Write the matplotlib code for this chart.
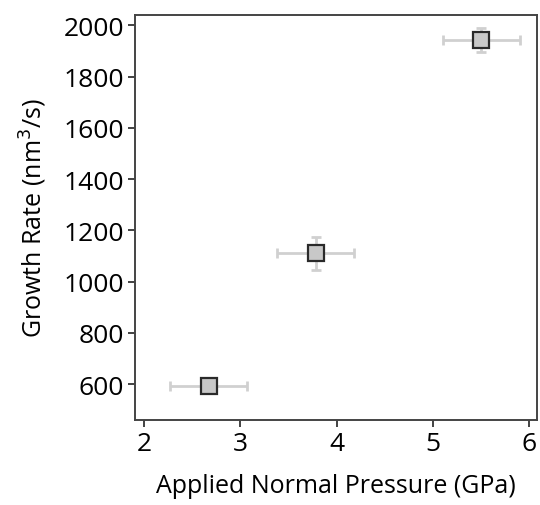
import matplotlib
matplotlib.use("Agg")
import matplotlib.pyplot as plt

# ── Data ──────────────────────────────────────────────────────────────────────
pressure     = [2.67, 3.78, 5.50]     # GPa
pressure_err = [0.40, 0.40, 0.40]
growth_rate  = [592, 1111, 1941]      # nm^3/s
growth_err   = [15, 64, 47]

x_ticks = [2, 3, 4, 5, 6]
y_ticks = [600, 800, 1000, 1200, 1400, 1600, 1800, 2000]

plt.rcParams['font.family'] = ['Open Sans', 'DejaVu Sans']

fig = plt.figure(figsize=(5.40, 5.06), dpi=100)
ax = fig.add_axes([135 / 540, 1 - 421 / 506, 402 / 540, 405 / 506])

ax.errorbar(pressure, growth_rate, xerr=pressure_err, yerr=growth_err,
            fmt='none', ecolor='#d0d0d0', elinewidth=2, capsize=3.5,
            capthick=2, zorder=2)
ax.plot(pressure, growth_rate, 's', ms=11.5, mfc='#c8c8c8', mec='#2a2a2a',
        mew=1.6, zorder=3)

ax.set_xlim(1.905, 6.08)
ax.set_ylim(460, 2040)
ax.set_xticks(x_ticks)
ax.set_yticks(y_ticks)

for s in ax.spines.values():
    s.set_color('#444444')
    s.set_linewidth(1.4)
ax.tick_params(direction='out', length=5, width=1.2, color='#222222',
               labelsize=19, pad=3)

ax.set_xlabel('Applied Normal Pressure (GPa)', fontsize=18, labelpad=12)
ax.set_ylabel('Growth Rate (nm$^3$/s)', fontsize=18, labelpad=10)

fig.savefig('out.png', dpi=100)
